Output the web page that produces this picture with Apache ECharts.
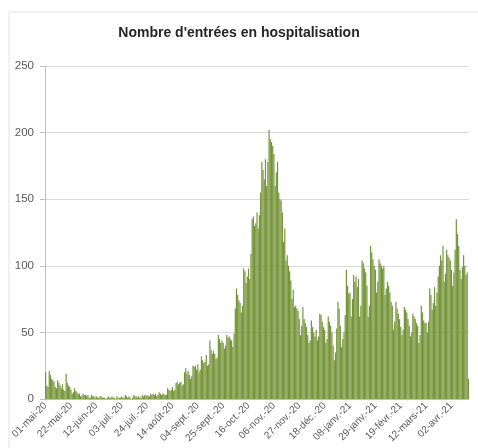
<!DOCTYPE html>
<html>
<head>
<meta charset="utf-8">
<title>Hospitalisations</title>
<script src="https://cdn.jsdelivr.net/npm/echarts@6/dist/echarts.min.js"></script>
<style>
  html, body { margin: 0; padding: 0; background: #fff; }
  #main { width: 478px; height: 448px; }
</style>
</head>
<body>
<div id="main"></div>
<script>
// jour 0 = 01-mai-20, un point par jour
var startDate = [2020, 4, 1];
var monthNames = ['janv.', 'févr.', 'mars', 'avr.', 'mai', 'juin', 'juil.', 'août', 'sept.', 'oct.', 'nov.', 'déc.'];
var yTicks = [0, 50, 100, 150, 200, 250];

// entrées quotidiennes, une ligne par semaine (ven -> jeu)
var entrees = [
  20, 10, 9, 21, 18, 15, 14,
  13, 9, 8, 14, 12, 10, 8,
  11, 7, 6, 19, 12, 10, 9,
  7, 4, 5, 8, 6, 5, 4,
  4, 2, 2, 4, 3, 3, 2,
  3, 1, 1, 3, 2, 2, 1,
  2, 1, 1, 2, 2, 1, 1,
  1, 0, 1, 2, 1, 1, 2,
  1, 1, 0, 2, 1, 1, 1,
  2, 1, 1, 3, 2, 1, 2,
  1, 0, 1, 3, 2, 2, 1,
  2, 1, 1, 3, 2, 3, 2,
  3, 2, 2, 4, 3, 4, 3,
  4, 2, 3, 5, 4, 3, 4,
  4, 3, 3, 8, 7, 6, 7,
  9, 6, 7, 12, 13, 11, 12,
  13, 10, 11, 20, 23, 19, 21,
  18, 15, 17, 25, 24, 25, 22,
  26, 20, 22, 32, 29, 27, 28,
  33, 25, 26, 44, 37, 34, 36,
  34, 30, 31, 48, 45, 42, 44,
  42, 38, 40, 48, 46, 47, 45,
  44, 39, 49, 68, 83, 78, 74,
  72, 65, 70, 98, 96, 87, 92,
  98, 90, 109, 135, 137, 130, 132,
  140, 128, 138, 155, 178, 172, 165,
  180, 160, 178, 202, 195, 193, 190,
  184, 160, 170, 178, 155, 150, 149,
  140, 118, 128, 104, 108, 100, 96,
  89, 75, 82, 69, 70, 68, 66,
  60, 48, 55, 69, 60, 57, 54,
  48, 42, 44, 59, 54, 50, 47,
  52, 44, 47, 64, 63, 58, 54,
  52, 42, 45, 62, 58, 55, 50,
  40, 29, 35, 53, 73, 68, 55,
  39, 45, 50, 63, 97, 85, 79,
  80, 62, 75, 93, 88, 92, 84,
  90, 62, 70, 104, 102, 98, 95,
  85, 62, 70, 115, 110, 105, 100,
  97, 80, 88, 105, 102, 100, 98,
  100, 78, 83, 88, 85, 80, 73,
  70, 52, 58, 73, 68, 64, 60,
  54, 48, 52, 69, 67, 65, 60,
  55, 47, 50, 64, 62, 60, 57,
  55, 42, 48, 70, 65, 59, 57,
  57, 50, 58, 83, 78, 67, 72,
  84, 70, 80, 92, 100, 108, 104,
  115, 88, 94, 112, 108, 106, 104,
  97, 85, 95, 112, 135, 124, 115,
  97, 90, 99, 108, 100, 93, 95,
  15
];

function pad(n) { return n < 10 ? '0' + n : '' + n; }

var jours = [];
for (var i = 0; i < entrees.length; i++) {
  var d = new Date(startDate[0], startDate[1], startDate[2] + i);
  jours.push(pad(d.getDate()) + '-' + monthNames[d.getMonth()] + '-' + String(d.getFullYear()).slice(2));
}

var chart = echarts.init(document.getElementById('main'));
chart.setOption({
  animation: false,
  title: {
    text: "Nombre d'entrées en hospitalisation",
    left: 'center',
    top: 21,
    textStyle: { fontFamily: 'Liberation Sans', fontSize: 14, fontWeight: 'bold', color: '#262626' }
  },
  graphic: [{
    type: 'rect',
    shape: { x: 9, y: 12, width: 480, height: 450 },
    style: { fill: 'none', stroke: '#e3e3e3', lineWidth: 1 }
  }],
  grid: { left: 45, right: 9, top: 66, bottom: 49 },
  xAxis: {
    type: 'category',
    data: jours,
    boundaryGap: true,
    axisLine: { lineStyle: { color: '#bfbfbf' } },
    axisTick: { interval: 20, length: 4, lineStyle: { color: '#bfbfbf' } },
    axisLabel: {
      interval: 20,
      rotate: 45,
      fontFamily: 'Liberation Sans',
      fontSize: 10,
      color: '#595959',
      margin: 5
    }
  },
  yAxis: {
    type: 'value',
    min: yTicks[0],
    max: yTicks[yTicks.length - 1],
    interval: 50,
    axisLine: { show: true, lineStyle: { color: '#bfbfbf' } },
    axisTick: { show: true, length: 5, lineStyle: { color: '#bfbfbf' } },
    axisLabel: { fontFamily: 'Liberation Sans', fontSize: 11.5, color: '#595959', margin: 11 },
    splitLine: { lineStyle: { color: '#d9d9d9' } }
  },
  series: [{
    type: 'bar',
    data: entrees,
    barCategoryGap: '0%',
    itemStyle: { color: '#76953a' }
  }]
});
</script>
</body>
</html>
